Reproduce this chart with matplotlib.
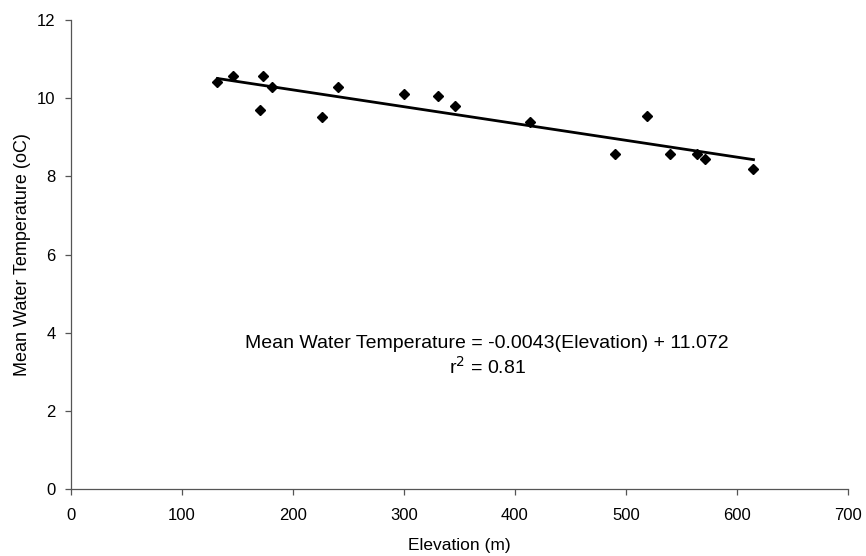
import numpy as np
import matplotlib.pyplot as plt

plt.rcParams['font.family'] = ['Liberation Sans', 'DejaVu Sans']

# elevation (m) and mean water temperature (oC)
elevation = [132, 146, 173, 181, 170, 226, 241, 300, 331, 346, 414, 519, 490, 540, 564, 571, 615]
temperature = [10.42, 10.58, 10.58, 10.28, 9.70, 9.51, 10.28, 10.11, 10.06, 9.81, 9.39, 9.55,
               8.56, 8.56, 8.56, 8.45, 8.20]

slope = -0.0043
intercept = 11.072
r2 = 0.81

fig = plt.figure(figsize=(8.66, 5.56), dpi=100)
ax = fig.add_axes([0.082, 0.1205, 0.897, 0.8435])

ax.plot(elevation, temperature, 'D', color='black', markersize=5.5, linestyle='none', zorder=3)

fit_x = np.array([min(elevation), max(elevation)])
ax.plot(fit_x, slope * fit_x + intercept, color='black', linewidth=2)

ax.set_xlim(0, 700)
ax.set_ylim(0, 12)
ax.set_xticks(range(0, 701, 100))
ax.set_yticks(range(0, 13, 2))
ax.spines['top'].set_visible(False)
ax.spines['right'].set_visible(False)
for s in ('left', 'bottom'):
    ax.spines[s].set_color('#555555')
    ax.spines[s].set_linewidth(0.9)
ax.tick_params(direction='out', length=4, width=0.9, color='#555555', labelsize=12)
ax.tick_params(axis='x', pad=10)
ax.tick_params(axis='y', pad=7)

ax.set_xlabel('Elevation (m)', fontsize=12.5)
ax.set_ylabel('Mean Water Temperature (oC)', fontsize=13)
ax.xaxis.set_label_coords(0.5, -0.104)
ax.yaxis.set_label_coords(-0.052, 0.5)

ax.text(375, 3.72, 'Mean Water Temperature = %.4f(Elevation) + %.3f' % (slope, intercept),
        ha='center', va='center', fontsize=14)
ax.text(375, 3.12, r'r$^2$ = %.2f' % r2, ha='center', va='center', fontsize=14)

fig.savefig('out.png', dpi=100)
